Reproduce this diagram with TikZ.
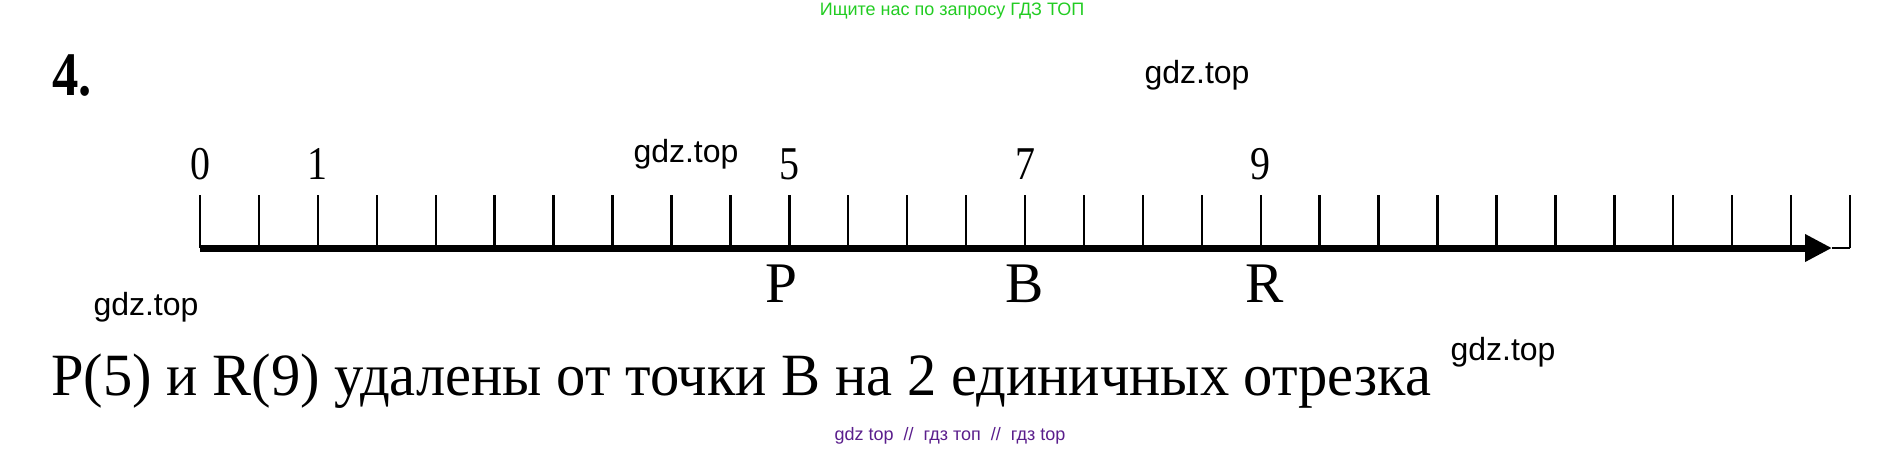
\documentclass[tikz,border=0pt]{standalone}
\usepackage{fontspec}
\setmainfont{Liberation Serif}
\newfontfamily\narrowserif[FakeStretch=0.85]{Liberation Serif}
\newfontfamily\answerserif[FakeStretch=0.975]{Liberation Serif}
\newfontfamily\marksans{Liberation Sans}
\usetikzlibrary{arrows.meta, positioning}
\definecolor{markgreen}{RGB}{34,204,34}
\definecolor{markpurple}{RGB}{90,30,140}

\begin{document}
\begin{tikzpicture}[x=0.5pt, y=-0.5pt, >={Triangle[length=13.5pt, width=13pt]},
    tick/.style={line width=1.2pt},
    axis/.style={line width=3.5pt},
    num/.style={font=\narrowserif\fontsize{23.5}{24}\selectfont, inner sep=0pt},
    pointname/.style={font=\fontsize{28.7}{29}\selectfont, inner sep=0pt},
    wmark/.style={font=\marksans\fontsize{16}{16}\selectfont, inner sep=0pt}]
    \useasboundingbox (0,0) rectangle (1903,451);
    \node[font=\marksans\fontsize{9}{9}\selectfont, text=markgreen, inner sep=0pt] (search) at (952,11) {Ищите нас по запросу ГДЗ ТОП};
    \node[font=\narrowserif\bfseries\fontsize{31}{31}\selectfont, anchor=base west, inner sep=0pt] (task) at (52,95) {4.};

    % ticks of the number line, two per unit
    \foreach \i in {0,...,28} {
        \coordinate (t\i) at (200+58.93*\i, 248);
        \coordinate (u\i) at (200+58.93*\i, 195);
        \draw[tick] (u\i) -- (t\i);
    }
    \coordinate (tip) at (1832,248);
    \draw[axis, ->] (t0) -- (tip);
    \draw[tick] (tip) -- (t28);

    \foreach \n/\k in {0/0, 1/2, 5/10, 7/14, 9/18}
        \node[num, above=7.5pt of u\k] (n\n) {\n};
    \foreach \p/\k/\s in {P/10/-4, B/14/0, R/18/2}
        \node[pointname, below=8.5pt of t\k, xshift=\s pt] (\p) {\p};

    \node[font=\answerserif\fontsize{30}{30}\selectfont, anchor=base west, inner sep=0pt] (answer) at (51,395) {P(5) и R(9) удалены от точки B на 2 единичных отрезка};

    \node[wmark] (gdz1) at (1197,75) {gdz.top};
    \node[wmark] (gdz2) at (686,154) {gdz.top};
    \node[wmark] (gdz3) at (146,307) {gdz.top};
    \node[wmark] (gdz4) at (1503,352) {gdz.top};
    \node[font=\marksans\fontsize{9}{9}\selectfont, text=markpurple, inner sep=0pt] (footer) at (950,436) {gdz top\ \ //\ \ гдз топ\ \ //\ \ гдз top};
\end{tikzpicture}
\end{document}
